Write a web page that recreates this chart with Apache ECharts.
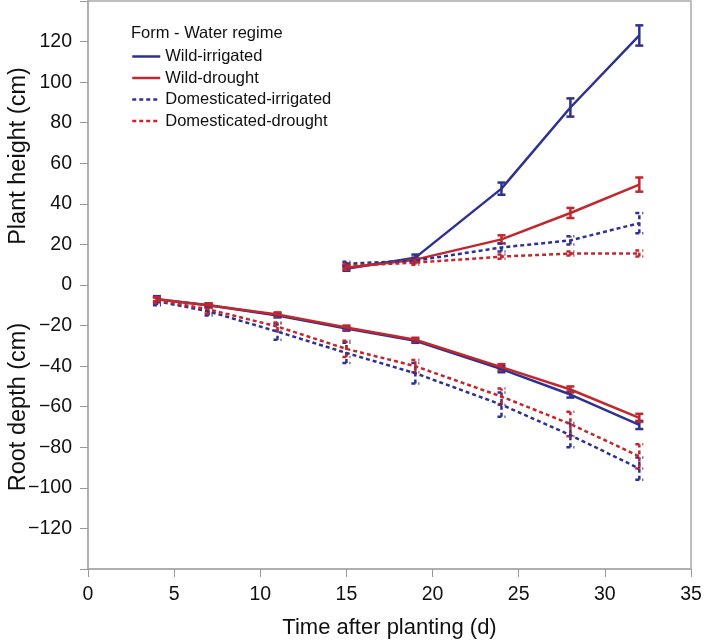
<!DOCTYPE html>
<html><head><meta charset="utf-8">
<script src="https://cdn.jsdelivr.net/npm/echarts@6/dist/echarts.min.js"></script>
<style>html,body{margin:0;padding:0;background:#fff}#c{width:705px;height:644px}</style>
</head><body><div id="c"></div>
<script>
const plantDays = [15, 19, 24, 28, 32];
const rootDays = [4, 7, 11, 15, 19, 24, 28, 32];
const seriesNames = ['Wild-irrigated', 'Wild-drought', 'Domesticated-irrigated', 'Domesticated-drought'];

const wildIrrPlant = [8, 13.5, 47.5, 87.5, 123];
const wildIrrPlantErr = [1, 1.5, 3, 4.5, 5];
const wildDrPlant = [8.5, 12.5, 22.5, 35.5, 49.5];
const wildDrPlantErr = [1, 1, 2, 2.5, 3.5];
const domIrrPlant = [10.5, 12, 18.5, 22, 30.5];
const domIrrPlantErr = [1, 1, 2, 2, 5];
const domDrPlant = [9.5, 11, 14, 15.5, 15.5];
const domDrPlantErr = [1, 1, 1, 1, 1.5];

const wildIrrRoot = [-7, -10, -15, -21.5, -27.5, -41.5, -54, -69];
const wildIrrRootErr = [1.5, 1, 1, 1, 1, 1.5, 1.5, 2];
const wildDrRoot = [-7, -10, -14.5, -21, -27, -40.5, -51.5, -65.5];
const wildDrRootErr = [1, 1, 1, 1, 1, 1.5, 1.5, 2];
const domIrrRoot = [-8, -13, -23, -33.5, -43.5, -59, -74, -90.5];
const domIrrRootErr = [2, 2, 4, 5, 5, 6, 6, 5.5];
const domDrRoot = [-7.5, -12, -20.5, -31.5, -40, -55, -68.5, -84.5];
const domDrRootErr = [1.5, 2, 2, 4, 3, 4, 6, 6];

const xTicks = [0, 5, 10, 15, 20, 25, 30, 35];
const yTicks = [-120, -100, -80, -60, -40, -20, 0, 20, 40, 60, 80, 100, 120];

const BLUE = '#2E3192', RED = '#C1272D';
const groups = [
  {name: seriesNames[0], color: BLUE, dashed: false, plant: wildIrrPlant, pe: wildIrrPlantErr, root: wildIrrRoot, re: wildIrrRootErr},
  {name: seriesNames[1], color: RED, dashed: false, plant: wildDrPlant, pe: wildDrPlantErr, root: wildDrRoot, re: wildDrRootErr},
  {name: seriesNames[2], color: BLUE, dashed: true, plant: domIrrPlant, pe: domIrrPlantErr, root: domIrrRoot, re: domIrrRootErr},
  {name: seriesNames[3], color: RED, dashed: true, plant: domDrPlant, pe: domDrPlantErr, root: domDrRoot, re: domDrRootErr}
];
const DASH = [4, 3];

function errSeries(g, days, vals, errs) {
  return {
    type: 'custom', name: g.name + ' err', silent: true, z: 3,
    data: days.map((d, i) => [d, vals[i] - errs[i], vals[i] + errs[i]]),
    renderItem: function (params, api) {
      const lo = api.coord([api.value(0), api.value(1)]);
      const hi = api.coord([api.value(0), api.value(2)]);
      const w = 4;
      const st = {stroke: g.color, lineWidth: 2.5, lineDash: g.dashed ? DASH : null, fill: null};
      return {type: 'group', children: [
        {type: 'line', shape: {x1: lo[0], y1: lo[1], x2: hi[0], y2: hi[1]}, style: st},
        {type: 'line', shape: {x1: lo[0] - w, y1: lo[1], x2: lo[0] + w, y2: lo[1]}, style: st},
        {type: 'line', shape: {x1: hi[0] - w, y1: hi[1], x2: hi[0] + w, y2: hi[1]}, style: st}
      ]};
    }
  };
}
function lineSeries(g, days, vals) {
  return {
    type: 'line', name: g.name, symbol: 'none', z: 4,
    data: days.map((d, i) => [d, vals[i]]),
    lineStyle: {color: g.color, width: 2.5, type: g.dashed ? DASH : 'solid'},
    itemStyle: {color: g.color}
  };
}
const series = [];
groups.forEach(g => {
  series.push(lineSeries(g, plantDays, g.plant));
  series.push(lineSeries(g, rootDays, g.root));
  series.push(errSeries(g, plantDays, g.plant, g.pe));
  series.push(errSeries(g, rootDays, g.root, g.re));
});

const FONT = '"Liberation Sans", Arial, sans-serif';
const chart = echarts.init(document.getElementById('c'), null, {renderer: 'canvas'});
chart.setOption({
  animation: false,
  backgroundColor: '#fff',
  textStyle: {fontFamily: FONT},
  grid: {left: 88, right: 14, top: 1, bottom: 70, show: true, borderColor: '#aaa', borderWidth: 1.5},
  xAxis: {
    type: 'value', min: 0, max: 35, interval: 5,
    axisLine: {show: true, onZero: false, lineStyle: {color: '#aaa', width: 1.5}},
    axisTick: {show: true, length: 8, lineStyle: {color: '#999'}},
    splitLine: {show: false},
    axisLabel: {color: '#111', fontSize: 19.5, fontFamily: FONT, margin: 16,
      formatter: v => xTicks.includes(v) ? String(v) : ''},
    name: 'Time after planting (d)', nameLocation: 'middle', nameGap: 48,
    nameTextStyle: {color: '#111', fontSize: 22, fontFamily: FONT}
  },
  yAxis: {
    type: 'value', min: -140, max: 140, interval: 20,
    axisLine: {show: true, onZero: false, lineStyle: {color: '#aaa', width: 1.5}},
    axisTick: {show: true, length: 8, lineStyle: {color: '#999'}},
    splitLine: {show: false},
    axisLabel: {color: '#111', fontSize: 19.5, fontFamily: FONT, margin: 16,
      formatter: v => yTicks.includes(v) ? String(v).replace('-', '\u2212') : ''}
  },
  legend: {
    data: seriesNames, orient: 'vertical', left: 126, top: 43,
    itemWidth: 28, itemHeight: 14, itemGap: 4.5,
    itemStyle: {opacity: 0},
    lineStyle: {width: 2.5},
    textStyle: {color: '#111', fontSize: 16.5, fontFamily: FONT}
  },
  graphic: [
    {type: 'text', x: 131, y: 33, style: {text: 'Form - Water regime', fill: '#111', font: '16.5px ' + FONT, verticalAlign: 'middle'}},
    {type: 'text', x: 19, y: 156, rotation: Math.PI / 2, style: {text: 'Plant height (cm)', fill: '#111', font: '23.5px ' + FONT, align: 'center', verticalAlign: 'middle'}},
    {type: 'text', x: 19, y: 407, rotation: Math.PI / 2, style: {text: 'Root depth (cm)', fill: '#111', font: '23.5px ' + FONT, align: 'center', verticalAlign: 'middle'}}
  ],
  series: series
});
</script></body></html>
